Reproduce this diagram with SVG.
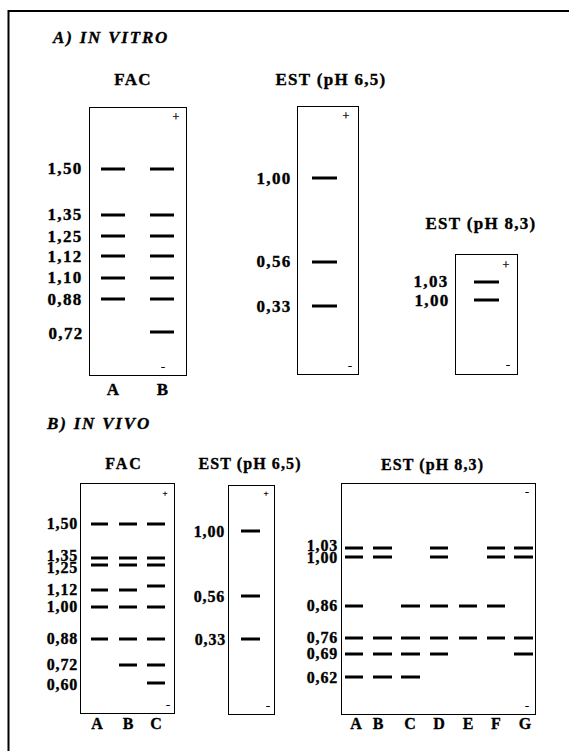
<svg xmlns="http://www.w3.org/2000/svg" width="569" height="751" viewBox="0 0 569 751">
<style>
  text { font-family: "Liberation Serif", "Times New Roman", serif; fill: #000; }
  .b { font-weight: bold; stroke: #000; stroke-width: 0.35; }
  .sec { font-size: 17px; font-style: italic; letter-spacing: 1.8px; }
  .ttl { font-size: 17px; letter-spacing: 1.3px; text-anchor: middle; }
  .ttl2 { font-size: 16px; letter-spacing: 1.1px; text-anchor: middle; }
  .lab { font-size: 17px; letter-spacing: 1.3px; text-anchor: end; }
  .lab2 { font-size: 16px; letter-spacing: 0.8px; text-anchor: end; }
  .col { font-size: 17px; text-anchor: middle; }
  .col2 { font-size: 16px; text-anchor: middle; }
  .pol { font-size: 12px; text-anchor: middle; stroke: #000; stroke-width: 0.3; }
  .box { fill: none; stroke: #000; stroke-width: 1; }
  .band { stroke: #000; stroke-width: 3; }
  .frame { stroke: #000; stroke-width: 2; fill: none; }
</style>

<g id="frame">
  <path class="frame" d="M8.5 751 V11 H569"/>
</g>

<text class="b sec" x="53" y="43">A) IN VITRO</text>
<text class="b sec" x="47" y="429">B) IN VIVO</text>

<!-- A) FAC -->
<g id="a-fac">
  <text class="b ttl" x="133" y="85">FAC</text>
  <rect class="box" x="89.5" y="107.5" width="97" height="268"/>
  <text class="pol" x="176" y="121">+</text>
  <text class="pol" x="163" y="371">-</text>
  <g class="band">
    <path d="M101 169H125M150 169H174"/>
    <path d="M101 215H125M150 215H174"/>
    <path d="M101 236H125M150 236H174"/>
    <path d="M101 256H125M150 256H174"/>
    <path d="M101 278H125M150 278H174"/>
    <path d="M101 299H125M150 299H174"/>
    <path d="M150 332H174"/>
  </g>
  <text class="b lab" x="82.5" y="174">1,50</text>
  <text class="b lab" x="82.5" y="220">1,35</text>
  <text class="b lab" x="82.5" y="241.5">1,25</text>
  <text class="b lab" x="82.5" y="261.5">1,12</text>
  <text class="b lab" x="82.5" y="283">1,10</text>
  <text class="b lab" x="82.5" y="304.5">0,88</text>
  <text class="b lab" x="83.5" y="339">0,72</text>
  <text class="b col" x="113" y="395">A</text>
  <text class="b col" x="162.5" y="395">B</text>
</g>

<!-- A) EST pH 6,5 -->
<g id="a-est65">
  <text class="b ttl" x="331" y="85">EST (pH 6,5)</text>
  <rect class="box" x="297.5" y="106.5" width="61" height="268"/>
  <text class="pol" x="346" y="120">+</text>
  <text class="pol" x="350" y="370">-</text>
  <g class="band">
    <path d="M312 178H337"/>
    <path d="M312 262H337"/>
    <path d="M312 306H337"/>
  </g>
  <text class="b lab" x="291.5" y="183.5">1,00</text>
  <text class="b lab" x="291.5" y="267">0,56</text>
  <text class="b lab" x="291.5" y="311.5">0,33</text>
</g>

<!-- A) EST pH 8,3 -->
<g id="a-est83">
  <text class="b ttl" x="481" y="229">EST (pH 8,3)</text>
  <rect class="box" x="455.5" y="254.5" width="62" height="120"/>
  <text class="pol" x="506" y="269">+</text>
  <text class="pol" x="508" y="369">-</text>
  <g class="band">
    <path d="M474 282H499"/>
    <path d="M474 300H499"/>
  </g>
  <text class="b lab" x="448.5" y="287">1,03</text>
  <text class="b lab" x="449.5" y="305.5">1,00</text>
</g>

<!-- B) FAC -->
<g id="b-fac">
  <text class="b ttl2" x="124" y="469" style="letter-spacing:2px">FAC</text>
  <rect class="box" x="80.5" y="483.5" width="94" height="230"/>
  <text class="pol" x="165" y="496" style="font-size:9px">+</text>
  <text class="pol" x="168" y="709">-</text>
  <g class="band">
    <path d="M91 524H108M119 524H137M147 524H165"/>
    <path d="M91 558H108M119 558H137M147 558H165"/>
    <path d="M91 565H108M119 565H137M147 565H165"/>
    <path d="M91 590H108M119 590H137M147 586H165"/>
    <path d="M91 607H108M119 607H137M147 607H165"/>
    <path d="M91 639H108M119 639H137M147 639H165"/>
    <path d="M119 665H137M147 665H165"/>
    <path d="M147 683H165"/>
  </g>
  <text class="b lab2" x="78" y="529">1,50</text>
  <text class="b lab2" x="78" y="561">1,35</text>
  <text class="b lab2" x="78" y="573">1,25</text>
  <text class="b lab2" x="78" y="595">1,12</text>
  <text class="b lab2" x="78" y="612">1,00</text>
  <text class="b lab2" x="78" y="644">0,88</text>
  <text class="b lab2" x="78" y="670">0,72</text>
  <text class="b lab2" x="78" y="690">0,60</text>
  <text class="b col2" x="97" y="729">A</text>
  <text class="b col2" x="128" y="729">B</text>
  <text class="b col2" x="156" y="729">C</text>
</g>

<!-- B) EST pH 6,5 -->
<g id="b-est65">
  <text class="b ttl2" x="250" y="469">EST (pH 6,5)</text>
  <rect class="box" x="228.5" y="485.5" width="46" height="229"/>
  <text class="pol" x="266" y="496" style="font-size:9px">+</text>
  <text class="pol" x="268" y="710">-</text>
  <g class="band">
    <path d="M241 531H260"/>
    <path d="M241 596H260"/>
    <path d="M241 639H260"/>
  </g>
  <text class="b lab2" x="225" y="537">1,00</text>
  <text class="b lab2" x="225" y="602">0,56</text>
  <text class="b lab2" x="226" y="645">0,33</text>
</g>

<!-- B) EST pH 8,3 -->
<g id="b-est83">
  <text class="b ttl2" x="432.5" y="470">EST (pH 8,3)</text>
  <rect class="box" x="341.5" y="483.5" width="194" height="231"/>
  <text class="pol" x="527" y="496">-</text>
  <text class="pol" x="527" y="710">-</text>
  <g class="band">
    <path d="M345 548H363M373 548H392M430 548H448M487 548H505M514 548H533"/>
    <path d="M345 557H363M373 557H392M430 557H448M487 557H505M514 557H533"/>
    <path d="M345 606H363M401 606H420M430 606H448M459 606H477M487 606H505"/>
    <path d="M345 638H363M373 638H392M401 638H420M430 638H448M459 638H477M487 638H505M514 638H533"/>
    <path d="M345 654H363M373 654H392M401 654H420M430 654H448M514 654H533"/>
    <path d="M345 677H363M373 677H392M401 677H420"/>
  </g>
  <text class="b lab2" x="338" y="551">1,03</text>
  <text class="b lab2" x="338" y="563">1,00</text>
  <text class="b lab2" x="338" y="611">0,86</text>
  <text class="b lab2" x="338" y="643">0,76</text>
  <text class="b lab2" x="338" y="659">0,69</text>
  <text class="b lab2" x="338" y="683">0,62</text>
  <text class="b col2" x="356" y="729">A</text>
  <text class="b col2" x="378" y="729">B</text>
  <text class="b col2" x="410" y="729">C</text>
  <text class="b col2" x="439" y="729">D</text>
  <text class="b col2" x="468" y="729">E</text>
  <text class="b col2" x="496" y="729">F</text>
  <text class="b col2" x="525" y="729">G</text>
</g>

<g id="connectors"></g>
</svg>
